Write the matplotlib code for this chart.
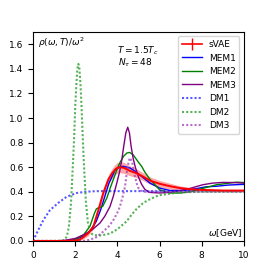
import matplotlib
matplotlib.use("Agg")
import matplotlib.pyplot as plt
from matplotlib.lines import Line2D
import numpy as np

# ---- data ----
svae_w = [0.0, 1.5, 2.0, 2.2, 2.38, 2.62, 2.86, 3.1, 3.33, 3.57, 3.75, 3.89, 4.0, 4.12, 4.3, 4.6, 4.91, 5.2, 5.55, 6.0, 6.5, 6.97, 7.5, 8.0, 9.0, 10.0]
svae_v = [0.0, 0.0, 0.002, 0.01, 0.03, 0.063, 0.117, 0.253, 0.39, 0.50, 0.55, 0.58, 0.595, 0.60, 0.595, 0.57, 0.55, 0.525, 0.49, 0.465, 0.445, 0.43, 0.42, 0.415, 0.41, 0.41]
svae_e = [0.0, 0.0, 0.005, 0.01, 0.015, 0.02, 0.02, 0.025, 0.03, 0.035, 0.04, 0.042, 0.044, 0.045, 0.045, 0.04, 0.035, 0.032, 0.03, 0.027, 0.024, 0.018, 0.012, 0.01, 0.008, 0.008]

mem1_w = [0.0, 1.5, 2.0, 2.4, 2.7, 3.0, 3.2, 3.4, 3.6, 3.9, 4.1, 4.28, 4.6, 4.9, 5.07, 5.55, 6.0, 6.5, 7.0, 7.44, 8.2, 8.7, 9.3, 10.0]
mem1_v = [0.0, 0.0, 0.01, 0.04, 0.08, 0.16, 0.25, 0.36, 0.47, 0.58, 0.60, 0.607, 0.593, 0.56, 0.535, 0.47, 0.43, 0.41, 0.41, 0.416, 0.44, 0.445, 0.455, 0.46]

mem2_w = [0.0, 1.5, 2.0, 2.4, 2.7, 2.9, 3.0, 3.1, 3.3, 3.5, 3.7, 4.0, 4.15, 4.3, 4.45, 4.58, 4.75, 5.0, 5.15, 5.3, 5.55, 6.0, 6.5, 7.0, 7.44, 8.0, 8.7, 9.3, 9.65, 10.0]
mem2_v = [0.0, 0.0, 0.01, 0.05, 0.12, 0.22, 0.26, 0.27, 0.28, 0.35, 0.45, 0.59, 0.647, 0.69, 0.715, 0.72, 0.70, 0.64, 0.607, 0.56, 0.50, 0.416, 0.39, 0.39, 0.40, 0.425, 0.457, 0.47, 0.478, 0.475]

mem3_w = [0.0, 1.0, 1.5, 2.0, 2.4, 2.8, 3.17, 3.4, 3.65, 3.8, 3.97, 4.1, 4.2, 4.3, 4.4, 4.49, 4.57, 4.65, 4.75, 4.85, 5.0, 5.15, 5.3, 5.5, 6.0, 6.5, 6.95, 7.5, 8.05, 8.5, 9.0, 9.5, 10.0]
mem3_v = [0.0, 0.0, 0.005, 0.02, 0.05, 0.09, 0.145, 0.20, 0.28, 0.36, 0.47, 0.56, 0.65, 0.77, 0.88, 0.925, 0.88, 0.77, 0.67, 0.60, 0.52, 0.46, 0.42, 0.395, 0.39, 0.395, 0.408, 0.43, 0.457, 0.47, 0.476, 0.475, 0.47]

dm1_w = [0.0, 0.25, 0.49, 0.8, 1.2, 1.6, 2.07, 2.5, 3.0, 10.0]
dm1_v = [0.0, 0.09, 0.17, 0.25, 0.31, 0.36, 0.39, 0.40, 0.405, 0.405]

dm2_w = [0.0, 1.2, 1.4, 1.5, 1.6, 1.7, 1.8, 1.9, 1.95, 2.0, 2.05, 2.1, 2.15, 2.2, 2.25, 2.3, 2.35, 2.4, 2.5, 2.6, 2.7, 2.8, 3.0, 3.25, 3.65, 4.0, 4.44, 4.68, 4.91, 5.23, 5.55, 5.94, 6.5, 7.0, 8.0, 10.0]
dm2_v = [0.0, 0.0, 0.003, 0.01, 0.035, 0.115, 0.31, 0.66, 0.85, 1.09, 1.26, 1.40, 1.44, 1.40, 1.27, 1.09, 0.87, 0.67, 0.33, 0.15, 0.08, 0.055, 0.045, 0.045, 0.06, 0.095, 0.16, 0.215, 0.26, 0.31, 0.34, 0.37, 0.385, 0.395, 0.40, 0.40]

dm3_w = [0.0, 2.4, 2.7, 3.0, 3.33, 3.6, 3.81, 4.0, 4.12, 4.25, 4.36, 4.45, 4.52, 4.58, 4.65, 4.73, 4.8, 4.91, 5.0, 5.1, 5.3, 10.0]
dm3_v = [0.0, 0.0, 0.01, 0.03, 0.076, 0.12, 0.17, 0.23, 0.28, 0.36, 0.44, 0.56, 0.63, 0.675, 0.66, 0.62, 0.55, 0.47, 0.43, 0.41, 0.40, 0.40]

labels = ["sVAE", "MEM1", "MEM2", "MEM3", "DM1", "DM2", "DM3"]
xticks = [0, 2, 4, 6, 8, 10]
yticks = [0.0, 0.2, 0.4, 0.6, 0.8, 1.0, 1.2, 1.4, 1.6]

FS = 6.5
plt.rcParams['font.size'] = FS
fig = plt.figure(figsize=(2.71, 2.71), dpi=100)
ax = fig.add_axes([0.122, 0.111, 0.778, 0.771])

sw = np.array(svae_w); sv = np.array(svae_v); se = np.array(svae_e)
ax.fill_between(sw, sv - se, sv + se, color='red', alpha=0.35, lw=0)
ax.plot(sw, sv, color='red', lw=1.4, zorder=5)

ax.plot(mem1_w, mem1_v, color='blue', lw=1.0)
ax.plot(mem2_w, mem2_v, color='green', lw=1.0)
ax.plot(mem3_w, mem3_v, color='purple', lw=1.0)

dot = (0, (1, 1))
ax.plot(dm1_w, dm1_v, color='blue', lw=1.5, ls=dot, alpha=0.65)
ax.plot(dm2_w, dm2_v, color='#2ca02c', lw=1.5, ls=dot, alpha=0.8)
ax.plot(dm3_w, dm3_v, color='#a040b0', lw=1.5, ls=dot, alpha=0.75)

handles = [
    Line2D([], [], color='red', lw=1.2, marker='|', ms=9, mew=1.0),
    Line2D([], [], color='blue', lw=1.0),
    Line2D([], [], color='green', lw=1.0),
    Line2D([], [], color='purple', lw=1.0),
    Line2D([], [], color='blue', lw=1.5, ls=dot, alpha=0.65),
    Line2D([], [], color='#2ca02c', lw=1.5, ls=dot, alpha=0.8),
    Line2D([], [], color='#a040b0', lw=1.5, ls=dot, alpha=0.75),
]
ax.legend(handles, labels, loc='upper right', fontsize=FS, handlelength=2.2)

ax.set_xlim(0, 10)
ax.set_ylim(0, 1.7)
ax.set_xticks(xticks)
ax.set_yticks(yticks)
ax.set_xticklabels([str(t) for t in xticks])
ax.set_yticklabels([f"{t:.1f}" for t in yticks])

ax.text(0.024, 0.985, r'$\rho(\omega,T)/\omega^2$', transform=ax.transAxes, ha='left', va='top', fontsize=FS)
ax.text(0.40, 0.912, r'$T = 1.5T_c$', transform=ax.transAxes, ha='left', va='center', fontsize=FS)
ax.text(0.405, 0.852, r'$N_\tau = 48$', transform=ax.transAxes, ha='left', va='center', fontsize=FS)
ax.text(0.995, 0.008, r'$\omega$[GeV]', transform=ax.transAxes, ha='right', va='bottom', fontsize=FS)

fig.savefig('out.png', dpi=100)
